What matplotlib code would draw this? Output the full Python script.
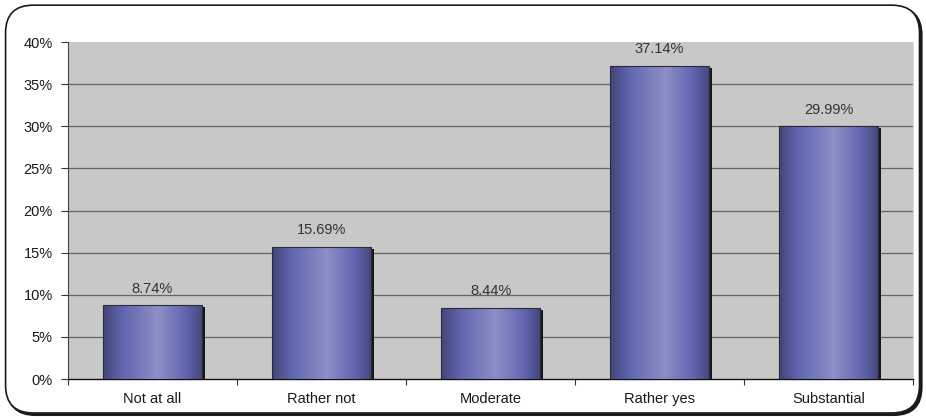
import numpy as np
import matplotlib
matplotlib.use("Agg")
import matplotlib.pyplot as plt
from matplotlib.patches import FancyBboxPatch
from matplotlib.colors import LinearSegmentedColormap
import matplotlib.transforms as mtransforms

plt.rcParams['font.family'] = ['Liberation Sans', 'DejaVu Sans']

# Data
categories = ["Not at all", "Rather not", "Moderate", "Rather yes", "Substantial"]
shares = [8.74, 15.69, 8.44, 37.14, 29.99]
y_ticks = [0, 5, 10, 15, 20, 25, 30, 35, 40]

fig = plt.figure(figsize=(9.26, 4.17), dpi=100)

# rounded frame round the whole chart, with a dark shadow edge
box = dict(boxstyle="round,pad=0,rounding_size=0.03",
           transform=fig.transFigure, mutation_aspect=926 / 417)
shadow = FancyBboxPatch((0.0082, 0.0048), 0.987, 0.978,
                        facecolor="#1a1a1a", edgecolor="#1a1a1a", lw=1.5,
                        zorder=0, **box)
frame = FancyBboxPatch((0.006, 0.0096), 0.987, 0.978,
                       facecolor="white", edgecolor="#1a1a1a", lw=1.2,
                       zorder=0.5, **box)
fig.patches.extend([shadow, frame])

ax = fig.add_axes([0.0734, 0.0911, 0.9126, 0.808])
ax.set_facecolor("#c8c8c8")
ax.set_zorder(1)

x = np.arange(len(categories))
width = 0.59
fs = 10.5

# horizontal shading of the bars: dark edges, light middle
grad = LinearSegmentedColormap.from_list(
    "bars", [(0.0, "#434676"), (0.2, "#6166b0"), (0.55, "#8e8fc7"),
             (0.85, "#5e62ad"), (1.0, "#434676")])
row = np.linspace(0, 1, 256).reshape(1, -1)

# drop shadow: same bars, shifted a few pixels right and down
shift = mtransforms.offset_copy(ax.transData, fig=fig, x=3, y=-2,
                                units="dots")
ax.bar(x, shares, width, color="#161616", lw=0, zorder=2.5,
       transform=shift)

bars = ax.bar(x, shares, width, color="none", edgecolor="#2a2a3a",
              lw=0.8, zorder=3)
for b, v in zip(bars, shares):
    im = ax.imshow(row, cmap=grad, aspect="auto", zorder=2.9,
                   extent=(b.get_x(), b.get_x() + b.get_width(), 0, v))
    im.set_clip_path(b)
    ax.text(b.get_x() + b.get_width() / 2, v + 2.0, f"{v:.2f}%",
            ha="center", va="center", fontsize=fs, color="#333333",
            zorder=5)

ax.set_xlim(-0.5, len(categories) - 0.5)
ax.set_ylim(0, 40)

# gridlines (none at the top edge)
for t in y_ticks[1:-1]:
    ax.axhline(t, color="#666666", lw=0.9, zorder=1)

ax.set_yticks(y_ticks)
ax.set_yticklabels([f"{t}%" for t in y_ticks])
ax.set_xticks(x)
ax.set_xticklabels(categories)
ax.set_xticks(np.arange(len(categories) + 1) - 0.5, minor=True)
ax.tick_params(axis="x", which="major", length=0, pad=9, labelsize=fs,
               labelcolor="#1a1a1a")
ax.tick_params(axis="x", which="minor", length=4, width=0.8,
               color="#333333")
ax.tick_params(axis="y", length=5, width=0.8, pad=6, labelsize=fs,
               labelcolor="#1a1a1a", color="#333333")

ax.spines["right"].set_color("#dcdcdc")
ax.spines["right"].set_linewidth(0.8)
ax.spines["left"].set_color("#444444")
ax.spines["bottom"].set_color("#111111")
ax.spines["bottom"].set_linewidth(1.0)
ax.spines["top"].set_visible(False)

fig.savefig("out.png", dpi=100)
